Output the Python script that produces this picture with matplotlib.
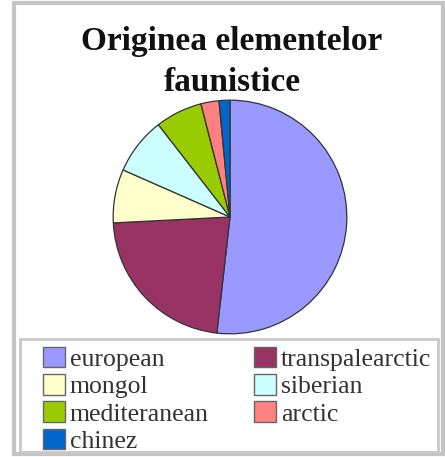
import matplotlib.pyplot as plt
from matplotlib.patches import Rectangle, Patch

# Originea elementelor faunistice (procente)
categorii = ["european", "transpalearctic", "mongol", "siberian",
             "mediteranean", "arctic", "chinez"]
procente = [51.8, 22.4, 7.4, 7.9, 6.5, 2.5, 1.5]
culori = ["#9999FF", "#993366", "#FFFFCC", "#CCFFFF",
          "#99CC00", "#FF8080", "#0066CC"]

W, H = 445, 457
fig = plt.figure(figsize=(W / 100, H / 100), dpi=100)
fig.patch.set_facecolor("white")

# chenar exterior
fig.add_artist(Rectangle((14 / W, 3 / H), 429 / W, 451 / H,
                         transform=fig.transFigure, fill=False,
                         edgecolor="#c4c4c4", lw=3))

fig.text(232 / W, 1 - 62 / H, "Originea elementelor\nfaunistice",
         ha="center", va="center", fontsize=24, fontweight="bold",
         family="Liberation Serif", color="#111111", linespacing=1.45)

# diagrama circulara
cx, cy, r = 230, 217, 118
ax = fig.add_axes([(cx - r) / W, (H - cy - r) / H, 2 * r / W, 2 * r / H])
ax.pie(procente, colors=culori, startangle=90, counterclock=False,
       wedgeprops=dict(edgecolor="#333333", linewidth=0.9))
ax.set_xlim(-1.01, 1.01)
ax.set_ylim(-1.01, 1.01)
ax.set_aspect("equal")
ax.axis("off")

# caseta legendei
fig.add_artist(Rectangle((20 / W, 5 / H), 418 / W, 113 / H,
                         transform=fig.transFigure, fill=False,
                         edgecolor="#c8c8c8", lw=2))

handles = [Patch(facecolor=c, edgecolor="#666666", lw=1) for c in culori]
# ordine pe randuri: ncol=2 umple pe coloane
ordine = [0, 2, 4, 6, 1, 3, 5]
leg = fig.legend([handles[i] for i in ordine], [categorii[i] for i in ordine],
                 ncol=2, loc="upper left",
                 bbox_to_anchor=(43 / W, 1 - 347 / H),
                 frameon=False, prop=dict(family="Liberation Serif", size=18.5),
                 handlelength=0.85, handleheight=0.85, handletextpad=0.2,
                 labelspacing=0.12, columnspacing=1.75, borderpad=0,
                 borderaxespad=0)
for t in leg.get_texts():
    t.set_color("#333333")

fig.savefig("out.png", dpi=100)
